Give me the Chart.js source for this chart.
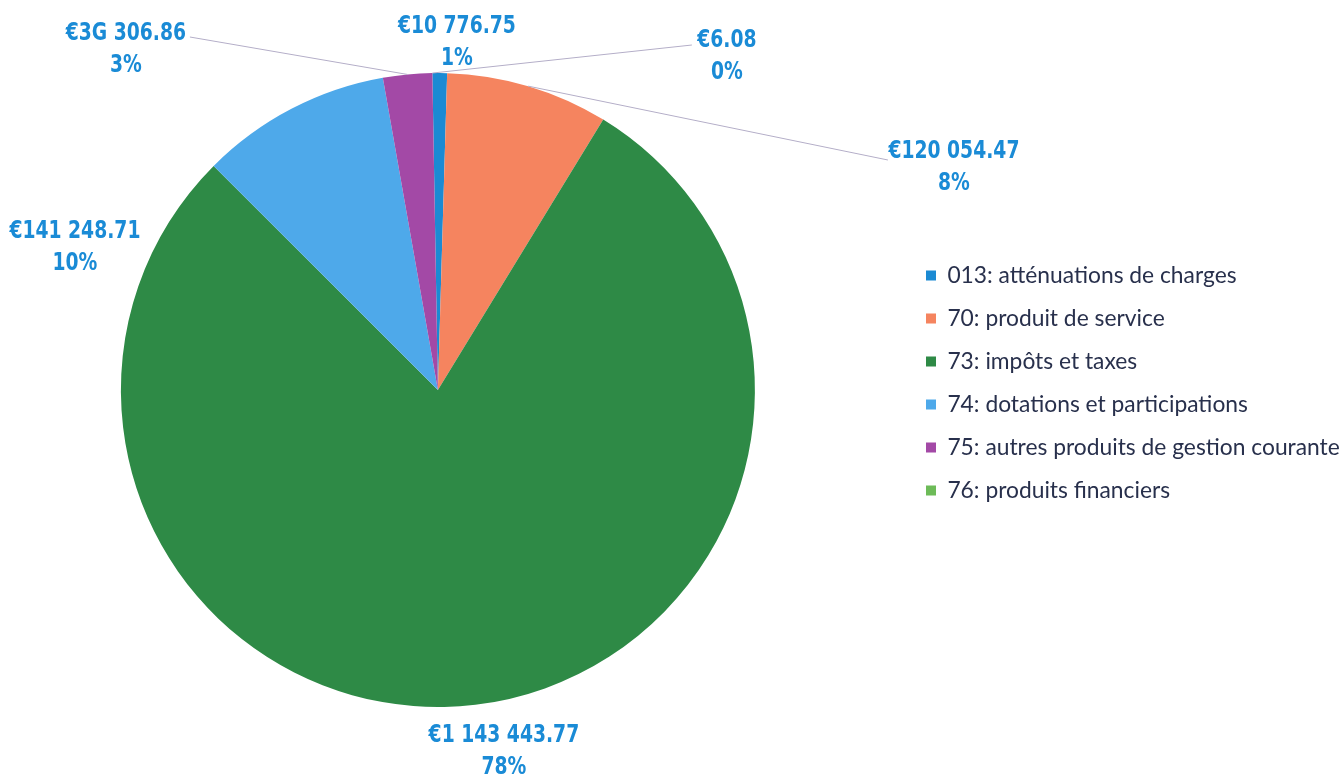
<!DOCTYPE html>
<html>
<head>
<meta charset="utf-8">
<script src="https://cdn.jsdelivr.net/npm/chart.js@4.4.0/dist/chart.umd.min.js"></script>
<style>
html,body{margin:0;padding:0;background:#ffffff;overflow:hidden;}
#wrap{width:1340px;height:774px;overflow:hidden;position:relative;}
#c{display:block;position:absolute;left:-30px;top:0;}
</style>
</head>
<body>
<div id="wrap"><canvas id="c" width="1390" height="774"></canvas></div>
<script>
// ---- data ----
const categories = [
  '013: atténuations de charges',
  '70: produit de service',
  '73: impôts et taxes',
  '74: dotations et participations',
  '75: autres produits de gestion courante',
  '76: produits financiers'
];
const amounts = [10776.75, 120054.47, 1143443.77, 141248.71, 36306.86, 6.08];
const amountLabels = ['€10 776.75', '€120 054.47', '€1 143 443.77', '€141 248.71', '€3G 306.86', '€6.08'];
const percentLabels = ['1%', '8%', '78%', '10%', '3%', '0%'];

// ---- styles / layout ----
const sliceColors = ['#1b8ad3', '#f5845f', '#2e8a46', '#4ea9ea', '#a349a6', '#6dbb58'];
const labelColor = '#1a8bd6';
const legendColor = '#28304c';
const leaderColor = '#b4aec8';
const shiftX = 30;              // canvas is shifted left by this many px
const canvasW = 1390;
// label text cap-centre (first line) relative to the pie centre, px
const labelOffsets = [[19, -366], [516, -241], [66, 343], [-363, -161], [-312, -359], [289, -352]];
const lineGap = 32;
// leader line start relative to the pie centre (null = no leader)
const leaderStarts = [null, [450, -230], null, null, [-248, -353], [254, -345]];

const measureCtx = document.createElement('canvas').getContext('2d');
const labelFamily = "'DejaVu Sans', sans-serif";
const labelSize = 24;
measureCtx.font = 'bold ' + labelSize + 'px ' + labelFamily;
const labelScaleX = 118 / measureCtx.measureText('€10 776.75').width;
const labelCapH = 0.729 * labelSize;

const legendFamily = "Lato, 'Open Sans', sans-serif";
measureCtx.font = 'normal 100px ' + legendFamily;
const legendSize = Math.round(100 * 392 / measureCtx.measureText(categories[4]).width * 10) / 10;
measureCtx.font = 'normal ' + legendSize + 'px ' + legendFamily;
const legendTextW = Math.max(...categories.map(t => measureCtx.measureText(t).width));

const rowStep = 43;
const legPad = rowStep - legendSize;
const boxW = 10;
const boxX = 926 + shiftX;
const legendLeft = boxX - legPad;
const legendRight = legendLeft + legPad + boxW + legendSize / 2 + legendTextW + 10;
const pieCx = 437.7 + shiftX;
const padLeft = Math.max(0, 2 * pieCx - legendLeft);
const padRight = Math.max(0, canvasW - legendRight);

const sliceLabels = {
  id: 'sliceLabels',
  afterDatasetsDraw(chart) {
    const ctx = chart.ctx;
    const meta = chart.getDatasetMeta(0);
    ctx.save();
    meta.data.forEach((arc, i) => {
      const cx = arc.x, cy = arc.y, r = arc.outerRadius;
      const mid = (arc.startAngle + arc.endAngle) / 2;
      const ax = cx + Math.cos(mid) * r;
      const ay = cy + Math.sin(mid) * r;
      const ls = leaderStarts[i];
      if (ls) {
        ctx.beginPath();
        ctx.strokeStyle = leaderColor;
        ctx.lineWidth = 1;
        ctx.moveTo(cx + ls[0], cy + ls[1]);
        ctx.lineTo(ax, ay);
        ctx.stroke();
      }
      const off = labelOffsets[i];
      const lx = cx + off[0], ly = cy + off[1];
      ctx.fillStyle = labelColor;
      ctx.font = 'bold ' + labelSize + 'px ' + labelFamily;
      ctx.textAlign = 'center';
      ctx.textBaseline = 'alphabetic';
      [amountLabels[i], percentLabels[i]].forEach((t, k) => {
        ctx.save();
        ctx.translate(lx, ly + k * lineGap + labelCapH / 2);
        ctx.scale(labelScaleX, 1);
        ctx.fillText(t, 0, 0);
        ctx.restore();
      });
    });
    ctx.restore();
  }
};

new Chart(document.getElementById('c'), {
  type: 'pie',
  data: {
    labels: categories,
    datasets: [{
      data: amounts,
      backgroundColor: sliceColors,
      borderWidth: 0
    }]
  },
  options: {
    responsive: false,
    animation: false,
    rotation: -1,
    layout: { padding: { left: padLeft, right: padRight, top: 73, bottom: 67 } },
    plugins: {
      tooltip: { enabled: false },
      legend: {
        position: 'right',
        align: 'center',
        title: { display: true, text: '', font: { size: 1, lineHeight: 1 }, padding: { top: -15, bottom: 0 } },
        labels: {
          boxWidth: boxW,
          boxHeight: boxW,
          padding: legPad,
          color: legendColor,
          font: { family: legendFamily, size: legendSize }
        }
      }
    }
  },
  plugins: [sliceLabels]
});
</script>
</body>
</html>
